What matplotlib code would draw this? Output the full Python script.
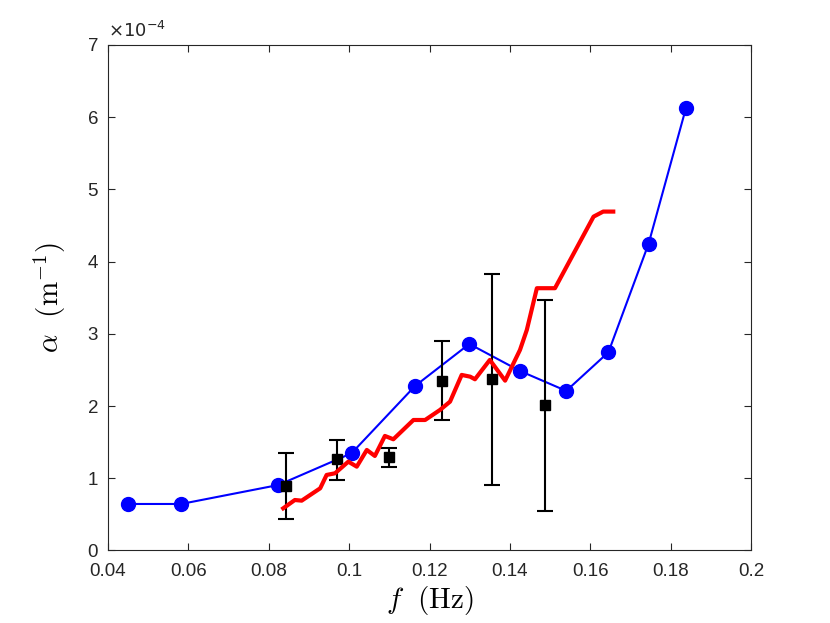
import matplotlib
matplotlib.use("Agg")
import matplotlib.pyplot as plt
from matplotlib.ticker import FuncFormatter

plt.rcParams['font.family'] = ['Liberation Sans', 'DejaVu Sans']
plt.rcParams['mathtext.fontset'] = 'cm'

SCALE = 1e-4

# model (blue circles)
f_model = [0.0451, 0.0582, 0.0824, 0.1006, 0.1164, 0.1299, 0.1425, 0.1540, 0.1645, 0.1745, 0.1838]
a_model = [0.644, 0.644, 0.907, 1.346, 2.278, 2.86, 2.486, 2.21, 2.745, 4.25, 6.13]

# measurements (black squares with error bars)
f_meas = [0.0842, 0.0969, 0.1099, 0.1230, 0.1356, 0.1487]
a_meas = [0.897, 1.263, 1.30, 2.352, 2.375, 2.015]
a_low = [0.44, 0.976, 1.161, 1.807, 0.91, 0.55]
a_high = [1.355, 1.53, 1.424, 2.897, 3.83, 3.47]

# red curve
f_red = [0.0836, 0.0865, 0.0882, 0.0928, 0.0944, 0.0965, 0.0998, 0.1019, 0.1044,
         0.1064, 0.1089, 0.1110, 0.1160, 0.1189, 0.1226, 0.1251, 0.1280, 0.1301,
         0.1313, 0.1350, 0.1388, 0.1425, 0.1442, 0.1467, 0.1512, 0.1608, 0.1632, 0.1657]
a_red = [0.584, 0.699, 0.690, 0.861, 1.046, 1.069, 1.230, 1.161, 1.392,
         1.309, 1.586, 1.540, 1.807, 1.807, 1.946, 2.061, 2.431, 2.407,
         2.371, 2.639, 2.352, 2.777, 3.054, 3.632, 3.632, 4.623, 4.693, 4.693]

fig = plt.figure(figsize=(8.3, 6.23), dpi=100)
ax = fig.add_axes([0.130, 0.1164, 0.775, 0.8114])

ax.plot(f_model, [v * SCALE for v in a_model], '-o', color='#0000ff',
        linewidth=1.5, markersize=10, zorder=2)

yerr = [[(m - lo) * SCALE for m, lo in zip(a_meas, a_low)],
        [(hi - m) * SCALE for m, hi in zip(a_meas, a_high)]]
ax.errorbar(f_meas, [v * SCALE for v in a_meas], yerr=yerr, fmt='s', color='black',
            markersize=7, capsize=6, elinewidth=1.5, capthick=1.5, zorder=3)

ax.plot(f_red, [v * SCALE for v in a_red], '-', color='#ff0000', linewidth=3, zorder=4)

ax.set_xlim(0.04, 0.2)
ax.set_ylim(0, 7 * SCALE)
ax.set_xticks([0.04, 0.06, 0.08, 0.1, 0.12, 0.14, 0.16, 0.18, 0.2])
ax.set_xticklabels(['0.04', '0.06', '0.08', '0.1', '0.12', '0.14', '0.16', '0.18', '0.2'])
ax.set_yticks([i * SCALE for i in range(8)])
ax.yaxis.set_major_formatter(FuncFormatter(lambda v, p: '%d' % round(v / SCALE)))

ax.tick_params(direction='in', top=True, right=True, length=5, width=0.8,
               labelsize=13.5, colors='#262626')
ax.tick_params(axis='x', pad=9)
ax.tick_params(axis='y', pad=7)
for s in ax.spines.values():
    s.set_color('#262626')
    s.set_linewidth(0.8)

ax.set_xlabel(r'$f\ \ (\mathrm{Hz})$', fontsize=21, labelpad=3)
ax.set_ylabel(r'$\alpha\ \ (\mathrm{m}^{-1})$', fontsize=21, labelpad=14)

ax.text(0.0, 1.008, r'$\times10^{-4}$', transform=ax.transAxes, fontsize=13,
        color='#262626', math_fontfamily='dejavusans', va='bottom', ha='left')

fig.savefig('out.png', dpi=100)
